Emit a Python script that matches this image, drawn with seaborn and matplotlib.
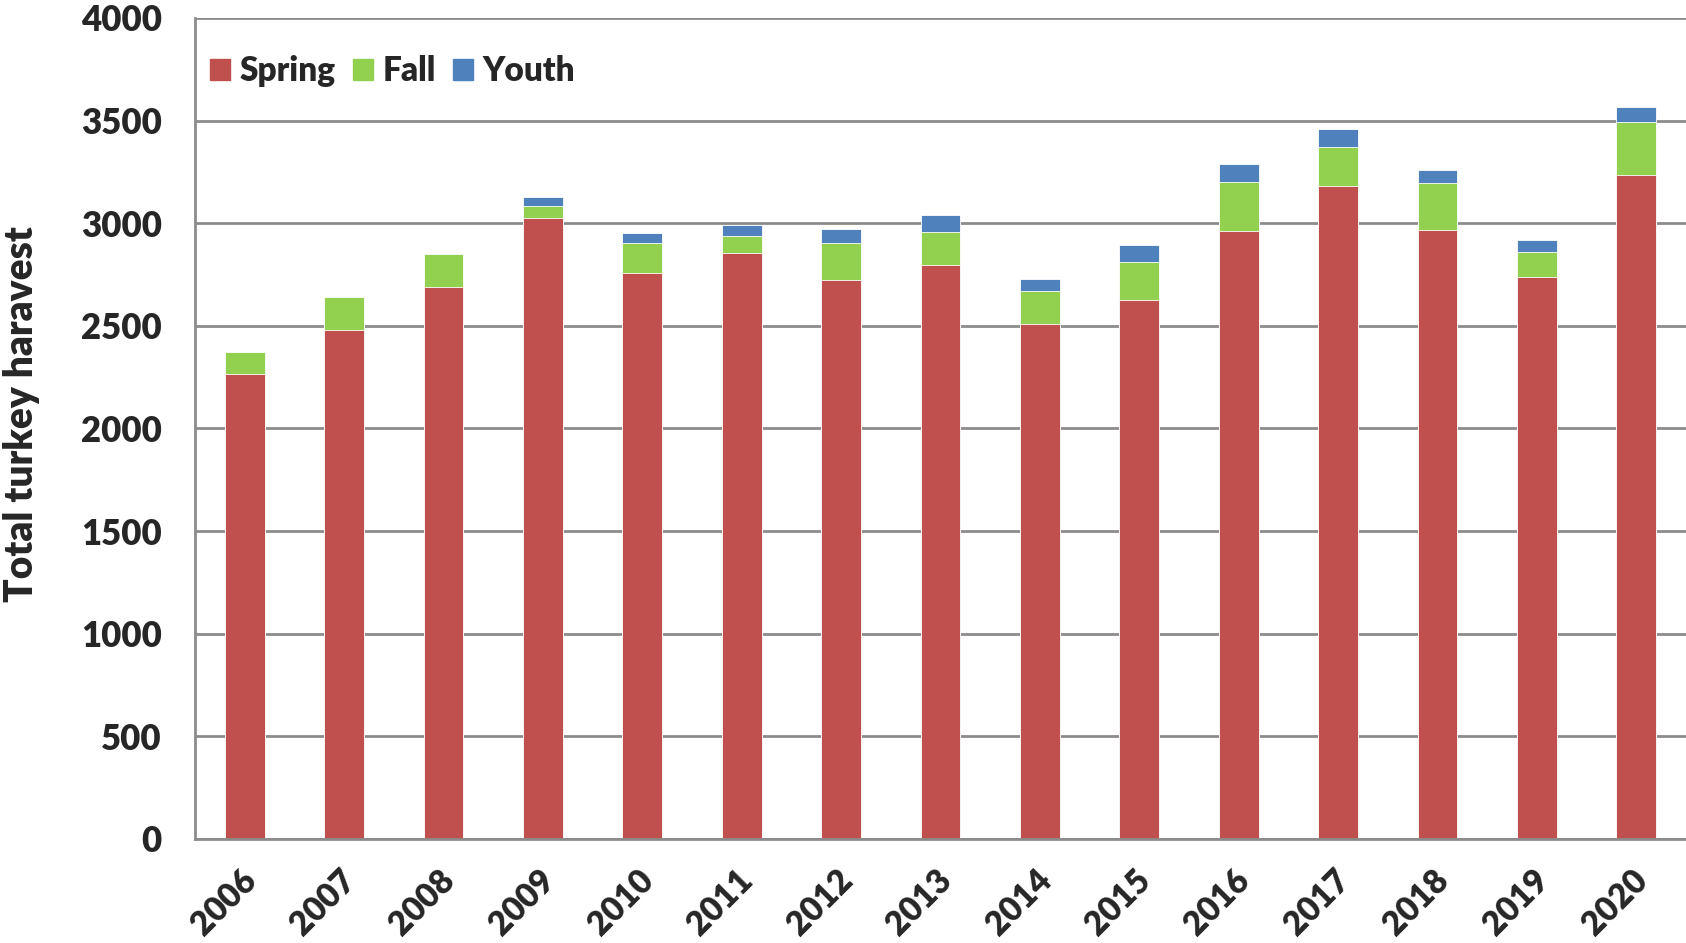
import pandas as pd
import seaborn as sns
import matplotlib.pyplot as plt
import matplotlib.transforms as mtrans
from matplotlib.patches import Patch

# harvest numbers
years = ['2006', '2007', '2008', '2009', '2010', '2011', '2012', '2013',
         '2014', '2015', '2016', '2017', '2018', '2019', '2020']
spring = [2265, 2481, 2689, 3026, 2757, 2856, 2723, 2797, 2510, 2627, 2962, 3181, 2965, 2737, 3234]
fall = [109, 159, 159, 59, 149, 84, 180, 160, 159, 185, 240, 192, 230, 121, 258]
youth = [0, 0, 0, 45, 47, 51, 68, 81, 57, 83, 89, 84, 66, 58, 74]

harvest = pd.DataFrame({'year': years, 'Spring': spring, 'Fall': fall, 'Youth': youth})
harvest['spring_fall'] = harvest['Spring'] + harvest['Fall']
harvest['total'] = harvest['spring_fall'] + harvest['Youth']

red, green, blue = '#C0504D', '#92D050', '#4F81BD'
wt = 'heavy'

sns.set_style('white')
plt.rcParams['font.family'] = ['Lato', 'DejaVu Sans']
plt.rcParams['font.weight'] = wt

fig = plt.figure(figsize=(16.86, 9.43), dpi=100)
ax = fig.add_axes([195 / 1686, 1 - 839 / 943, 1 - 195 / 1686, (839 - 18) / 943])

# stacked bars: draw the totals first, then cover them with the lower parts
sns.barplot(data=harvest, x='year', y='total', color=blue, width=0.4, saturation=1, ax=ax,
            edgecolor='white', linewidth=0.6)
sns.barplot(data=harvest, x='year', y='spring_fall', color=green, width=0.4, saturation=1, ax=ax,
            edgecolor='white', linewidth=0.6)
sns.barplot(data=harvest, x='year', y='Spring', color=red, width=0.4, saturation=1, ax=ax,
            edgecolor='white', linewidth=0.6)

ax.set_ylim(0, 4000)
ax.set_xlim(-0.5, len(years) - 0.5)
ax.set_yticks(range(0, 4001, 500))
ax.yaxis.grid(True, color='#8c8c8c', linewidth=2)
ax.set_axisbelow(True)
ax.set_xlabel('')
ax.set_ylabel('')

for side in ['top', 'right']:
    ax.spines[side].set_visible(False)
for side in ['left', 'bottom']:
    ax.spines[side].set_color('#8c8c8c')
    ax.spines[side].set_linewidth(2)

# tick marks sit between the years, labels at the bar centres
ax.set_xticks([i - 0.5 for i in range(len(years) + 1)], minor=True)
ax.tick_params(axis='x', which='minor', length=10, width=1.5, color='#8c8c8c', direction='out')
ax.tick_params(axis='x', which='major', length=0, pad=18)
ax.set_xticklabels(years, rotation=45, ha='right', rotation_mode='anchor',
                   fontsize=24, fontweight=wt)
shift = mtrans.ScaledTranslation(-5 / 100, 0, fig.dpi_scale_trans)
for lab in ax.get_xticklabels():
    lab.set_transform(lab.get_transform() + shift)
ax.tick_params(axis='y', length=7, width=1.5, color='#8c8c8c', direction='out', pad=17,
               labelsize=25)
for lab in ax.get_yticklabels():
    lab.set_fontweight(wt)

fig.text(22 / 1686, 1 - 414 / 943, 'Total turkey haravest', rotation=90, ha='center',
         va='center', fontsize=28, fontweight=wt)

handles = [Patch(color=red, label='Spring'), Patch(color=green, label='Fall'),
           Patch(color=blue, label='Youth')]
ax.legend(handles=handles, loc='upper left', bbox_to_anchor=(0.01, 0.955), ncol=3,
          frameon=False, handlelength=0.6, handleheight=0.6,
          handletextpad=0.3, columnspacing=0.5, borderpad=0, borderaxespad=0,
          prop={'weight': wt, 'size': 24})

fig.savefig('out.png', dpi=100)
